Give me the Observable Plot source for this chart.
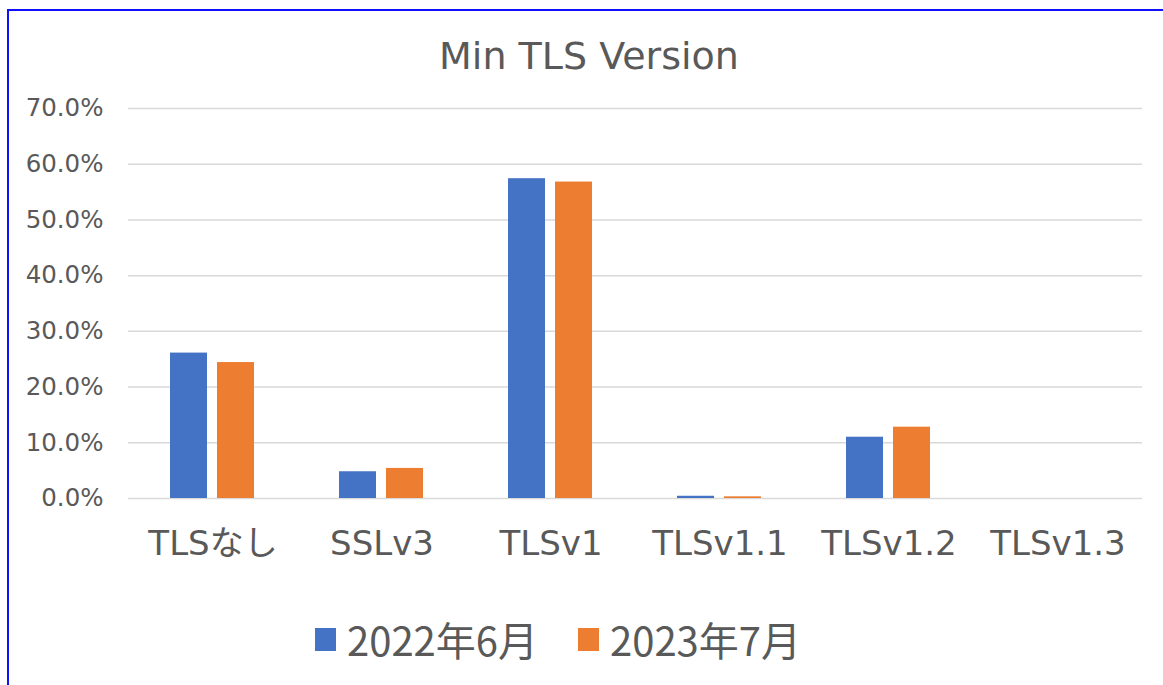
<!DOCTYPE html>
<html>
<head>
<meta charset="utf-8">
<script src="https://cdn.jsdelivr.net/npm/d3@7"></script>
<script src="https://cdn.jsdelivr.net/npm/@observablehq/plot@0.6"></script>
<style>
  html, body { margin: 0; padding: 0; background: #fff; overflow: hidden; width: 1163px; height: 685px; }
  #frame { position: absolute; left: 7px; top: 9px; width: 1200px; height: 720px; border: 2px solid #1010ff; box-sizing: border-box; }
  #title { position: absolute; left: 0; top: 37px; width: 1178px; text-align: center; font-family: "DejaVu Sans", sans-serif; font-size: 38px; line-height: 1; color: #595959; }
  #chart { position: absolute; left: 0; top: 88px; }
  #chart svg text { font-family: "DejaVu Sans", "Noto Sans CJK JP", sans-serif; }
  #legend { position: absolute; left: 315px; top: 619px; display: flex; align-items: center; font-family: "Noto Sans CJK JP", sans-serif; font-size: 40px; color: #595959; line-height: 1; }
  .item { display: flex; align-items: center; margin-right: 40px; }
  .sw { width: 21px; height: 23px; margin-right: 11px; }
</style>
</head>
<body>
<div id="frame"></div>
<div id="title">Min TLS Version</div>
<div id="chart"></div>
<div id="legend"></div>
<script>
const categories = ["TLSなし", "SSLv3", "TLSv1", "TLSv1.1", "TLSv1.2", "TLSv1.3"];
const series = ["2022年6月", "2023年7月"];
const values2022 = [26.1, 4.8, 57.4, 0.4, 11.0, 0.0];
const values2023 = [24.4, 5.4, 56.8, 0.3, 12.8, 0.0];
const yTicks = [0, 10, 20, 30, 40, 50, 60, 70];
const colors = ["#4472C4", "#ED7D31"];

const data = [];
categories.forEach((c, i) => {
  data.push({category: c, series: series[0], value: values2022[i]});
  data.push({category: c, series: series[1], value: values2023[i]});
});

const font = "DejaVu Sans, Noto Sans CJK JP, sans-serif";
const chart = Plot.plot({
  width: 1163,
  height: 512,
  marginLeft: 128,
  marginRight: 21,
  marginTop: 20,
  marginBottom: 102,
  style: {fontFamily: font, color: "#595959", background: "transparent"},
  fx: {domain: categories, padding: 0, label: null},
  x: {domain: series, paddingInner: 0.208, paddingOuter: 0.865, axis: null},
  y: {domain: [0, 70], label: null, axis: null},
  color: {domain: series, range: colors},
  marks: [
    Plot.ruleY(yTicks, {y: d => d, stroke: "#d9d9d9", strokeWidth: 1.5}),
    Plot.barY(data, {fx: "category", x: "series", y: "value", fill: "series"}),
    Plot.axisY({ticks: yTicks, anchor: "left", tickSize: 0, tickPadding: 25, fontSize: 24.5, fill: "#595959", tickFormat: d => d.toFixed(1) + "%", label: null}),
    Plot.axisFx({anchor: "bottom", tickSize: 0, tickPadding: 32, fontSize: 34, fill: "#595959", label: null})
  ]
});
document.getElementById("chart").appendChild(chart);

const legend = document.getElementById("legend");
series.forEach((s, i) => {
  const item = document.createElement("div");
  item.className = "item";
  const sw = document.createElement("div");
  sw.className = "sw";
  sw.style.background = colors[i];
  const t = document.createElement("span");
  t.textContent = s;
  item.appendChild(sw);
  item.appendChild(t);
  legend.appendChild(item);
});
</script>
</body>
</html>
